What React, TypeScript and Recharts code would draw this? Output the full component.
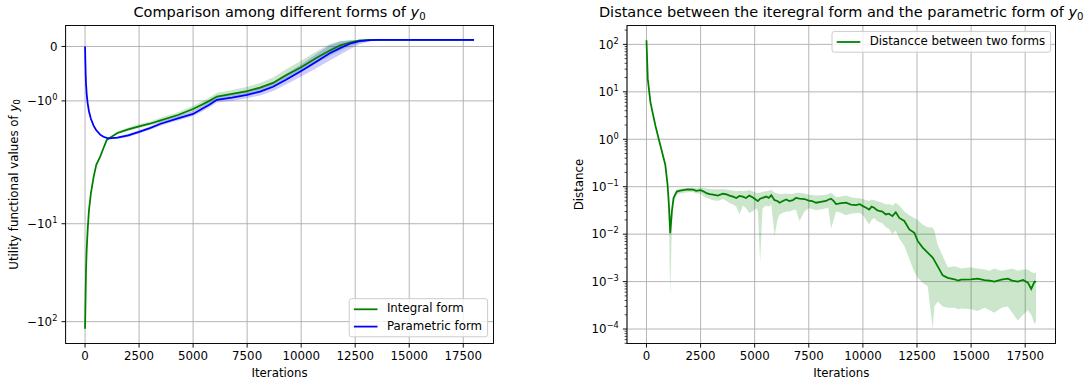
import React from "react";
import { ComposedChart, Line, Area, XAxis, YAxis, CartesianGrid } from "recharts";

const FONT = "'DejaVu Sans', sans-serif";
const FS = 11.8;
const TITLE_FS = 14.5;
const LW = 1.77;
const GRID = "#b0b0b0";
const TICK_LEN = 4.1;
const TICK_PAD = 4.1;
const GREEN = "#008000";
const BLUE = "#0000ff";

const iterTicks = [0, 2500, 5000, 7500, 10000, 12500, 15000, 17500];

// left panel: utility functional values of y0 (symlog axis)
const iters = [
  0, 15, 30, 45, 75, 120, 180, 270, 400, 520, 700, 850, 1000, 1100, 1500, 2000, 2500, 3000, 3500, 4300,
  5000, 5400, 5750, 6100, 6800, 7500, 8100, 8700, 9300, 10000, 10700, 11300, 11800, 12250, 12700, 13200,
  13600, 14000, 18000,
];
const integralForm = [
  -118, -75, -47, -30, -18.5, -11.7, -7.3, -4.9, -3.3, -2.5, -2.06, -1.87, -1.72, -1.69, -1.59, -1.525,
  -1.47, -1.42, -1.36, -1.26, -1.15, -1.07, -1.0, -0.92, -0.87, -0.82, -0.755, -0.67, -0.53, -0.38, -0.21,
  -0.08, 0.02, 0.07, 0.11, 0.12, 0.12, 0.12, 0.12,
];
const integralLow = [
  -119, -76, -47.5, -30.3, -18.7, -11.8, -7.35, -4.93, -3.32, -2.52, -2.07, -1.88, -1.73, -1.7, -1.61,
  -1.55, -1.5, -1.45, -1.4, -1.3, -1.2, -1.12, -1.05, -0.97, -0.93, -0.88, -0.82, -0.74, -0.61, -0.47,
  -0.31, -0.18, -0.08, 0.0, 0.07, 0.11, 0.12, 0.12, 0.12,
];
const integralHigh = [
  -117, -74, -46.5, -29.7, -18.3, -11.6, -7.25, -4.87, -3.28, -2.48, -2.05, -1.86, -1.71, -1.68, -1.56,
  -1.49, -1.43, -1.38, -1.31, -1.21, -1.09, -1.01, -0.94, -0.85, -0.8, -0.74, -0.67, -0.57, -0.42, -0.26,
  -0.09, 0.04, 0.1, 0.12, 0.12, 0.12, 0.12, 0.12, 0.12,
];
const parametricForm = [
  0, -0.28, -0.52, -0.68, -0.87, -1.04, -1.19, -1.33, -1.46, -1.54, -1.62, -1.66, -1.68, -1.69, -1.675,
  -1.635, -1.57, -1.5, -1.42, -1.32, -1.24, -1.15, -1.07, -0.98, -0.94, -0.89, -0.83, -0.74, -0.61, -0.45,
  -0.28, -0.13, -0.03, 0.05, 0.1, 0.115, 0.12, 0.12, 0.12,
];
const parametricLow = [
  -0.01, -0.29, -0.53, -0.69, -0.88, -1.05, -1.2, -1.34, -1.47, -1.55, -1.63, -1.67, -1.69, -1.7, -1.695,
  -1.665, -1.6, -1.53, -1.455, -1.36, -1.28, -1.2, -1.12, -1.03, -1.0, -0.95, -0.9, -0.82, -0.7, -0.55,
  -0.4, -0.26, -0.15, -0.05, 0.04, 0.095, 0.115, 0.12, 0.12,
];
const parametricHigh = [
  0.01, -0.27, -0.51, -0.67, -0.86, -1.03, -1.18, -1.32, -1.45, -1.53, -1.61, -1.65, -1.67, -1.68, -1.655,
  -1.605, -1.54, -1.47, -1.385, -1.28, -1.19, -1.1, -1.01, -0.92, -0.88, -0.82, -0.75, -0.65, -0.5, -0.33,
  -0.14, 0.02, 0.09, 0.11, 0.12, 0.12, 0.12, 0.12, 0.12,
];
const leftTickValues = [0, -1, -10, -100];

// right panel: distance between the two forms (log axis)
const distIters = [
  0, 61, 183, 411, 640, 869, 975, 1036, 1097, 1173,
  1250, 1400, 1550, 1700, 1900, 2150, 2300, 2500, 2650, 2770,
  2920, 3080, 3300, 3530, 3700, 3840, 4000, 4150, 4300, 4450,
  4600, 4750, 4900, 5060, 5150, 5250, 5364, 5537, 5650, 5767,
  5920, 6050, 6150, 6300, 6457, 6600, 6764, 6900, 7070, 7300,
  7500, 7650, 7837, 8050, 8298, 8400, 8528, 8650, 8758, 9000,
  9218, 9450, 9678, 9850, 10000, 10150, 10292, 10400, 10522, 10650,
  10752, 10900, 11059, 11200, 11366, 11519, 11682, 11914, 12145, 12377,
  12531, 12762, 12994, 13225, 13302, 13457, 13688, 13920, 14228, 14400,
  14537, 15000, 15300, 15617, 15850, 16080, 16400, 16697, 16900, 17160,
  17400, 17623, 17777, 17932, 18000,
];
const distance = [
  122, 18.5, 6.0, 1.95, 0.75, 0.29, 0.11, 0.042, 0.0105, 0.03,
  0.058, 0.079, 0.083, 0.085, 0.088, 0.087, 0.082, 0.085, 0.079, 0.073,
  0.07, 0.068, 0.065, 0.071, 0.069, 0.065, 0.062, 0.058, 0.064, 0.062,
  0.058, 0.065, 0.06, 0.053, 0.05, 0.056, 0.058, 0.062, 0.058, 0.066,
  0.052, 0.05, 0.046, 0.05, 0.054, 0.05, 0.052, 0.058, 0.056, 0.055,
  0.051, 0.05, 0.046, 0.048, 0.05, 0.053, 0.056, 0.05, 0.043, 0.045,
  0.046, 0.042, 0.041, 0.043, 0.039, 0.036, 0.033, 0.038, 0.036, 0.032,
  0.031, 0.03, 0.026, 0.027, 0.024, 0.029, 0.022, 0.019, 0.0126, 0.0107,
  0.0072, 0.0052, 0.0041, 0.0032, 0.0028, 0.0021, 0.00135, 0.0012, 0.00112, 0.00105,
  0.0011, 0.00112, 0.00115, 0.00108, 0.00105, 0.001, 0.0011, 0.00115, 0.00105, 0.001,
  0.00108, 0.00095, 0.0007, 0.001, 0.00098,
];
const distLow = [
  120, 18.2, 5.9, 1.9, 0.73, 0.28, 0.105, 0.02, 0.0005, 0.015,
  0.045, 0.068, 0.072, 0.074, 0.076, 0.077, 0.072, 0.072, 0.062, 0.058,
  0.055, 0.052, 0.05, 0.055, 0.05, 0.045, 0.042, 0.038, 0.026, 0.04,
  0.035, 0.028, 0.03, 0.035, 0.03, 0.0025, 0.035, 0.04, 0.038, 0.042,
  0.009, 0.02, 0.026, 0.028, 0.03, 0.03, 0.032, 0.033, 0.019, 0.03,
  0.035, 0.034, 0.032, 0.033, 0.035, 0.036, 0.013, 0.02, 0.03, 0.028,
  0.025, 0.027, 0.028, 0.028, 0.025, 0.02, 0.016, 0.02, 0.022, 0.019,
  0.018, 0.017, 0.014, 0.013, 0.01, 0.012, 0.008, 0.0056, 0.003, 0.0016,
  0.0012, 0.00095, 0.0008, 0.0001, 0.0003, 0.00038, 0.0003, 0.00028, 0.00028, 0.00026,
  0.00027, 0.00026, 0.00024, 0.00028, 0.00025, 0.00022, 0.00028, 0.0003, 0.00022, 0.00015,
  0.0002, 0.00025, 0.0002, 0.00013, 0.00014,
];
const distHigh = [
  124, 18.8, 6.1, 2.0, 0.77, 0.3, 0.115, 0.045, 0.012, 0.035,
  0.065, 0.088, 0.09, 0.093, 0.094, 0.095, 0.093, 0.096, 0.094, 0.092,
  0.09, 0.088, 0.088, 0.09, 0.087, 0.085, 0.083, 0.08, 0.082, 0.08,
  0.082, 0.085, 0.08, 0.075, 0.074, 0.075, 0.078, 0.08, 0.082, 0.086,
  0.075, 0.072, 0.07, 0.07, 0.072, 0.07, 0.07, 0.074, 0.075, 0.072,
  0.068, 0.067, 0.065, 0.066, 0.068, 0.07, 0.075, 0.068, 0.06, 0.062,
  0.065, 0.06, 0.058, 0.057, 0.055, 0.052, 0.05, 0.054, 0.052, 0.05,
  0.048, 0.046, 0.042, 0.043, 0.04, 0.046, 0.04, 0.03, 0.025, 0.022,
  0.02, 0.016, 0.014, 0.0138, 0.012, 0.006, 0.0035, 0.002, 0.0021, 0.002,
  0.0019, 0.002, 0.0019, 0.0018, 0.0017, 0.0019, 0.0017, 0.0018, 0.0019, 0.0017,
  0.0018, 0.0018, 0.0016, 0.0015, 0.0016,
];

// symmetric log transform (linthresh 2, base 10, linscale 1)
const LINTHRESH = 2;
const LINSCALE = 1 / (1 - 1 / 10);
const symlog = (v: number) => {
  const a = Math.abs(v);
  if (a <= LINTHRESH) return v * LINSCALE;
  return Math.sign(v) * LINTHRESH * (LINSCALE + Math.log10(a / LINTHRESH));
};

const padded = (vals: number[]): [number, number] => {
  const lo = Math.min(...vals);
  const hi = Math.max(...vals);
  const pad = (hi - lo) * 0.05;
  return [lo - pad, hi + pad];
};

const leftRows = iters.map((x, i) => ({
  x,
  integral: symlog(integralForm[i]),
  integralBand: [symlog(integralLow[i]), symlog(integralHigh[i])],
  parametric: symlog(parametricForm[i]),
  parametricBand: [symlog(parametricLow[i]), symlog(parametricHigh[i])],
}));
const leftDomain = padded(
  [...integralForm, ...integralLow, ...integralHigh, ...parametricForm, ...parametricLow, ...parametricHigh].map(symlog)
);

const rightRows = distIters.map((x, i) => ({
  x,
  dist: distance[i],
  band: [distLow[i], distHigh[i]],
}));
const logDom = padded([...distance, ...distLow, ...distHigh].map(Math.log10));
const rightDomain: [number, number] = [10 ** logDom[0], 10 ** logDom[1]];
const rightMajors = [1e-4, 1e-3, 1e-2, 1e-1, 1, 10, 100];
const rightMinors: number[] = [];
for (let k = -5; k <= 2; k++) {
  for (let m = 2; m <= 9; m++) {
    const v = m * 10 ** k;
    if (v >= rightDomain[0] && v <= rightDomain[1]) rightMinors.push(v);
  }
}

// plot frames (page coordinates)
const LEFT = { x: 65.6, y: 25.5, w: 427.9, h: 318 };
const RIGHT = { x: 627, y: 25.5, w: 428.5, h: 318 };
const PANEL_W = 544;
const H = 383;

function PowLabel({ x, y, base, exp }: { x: number; y: number; base: string; exp?: string }) {
  return (
    <text x={x} y={y} textAnchor="end" fontFamily={FONT} fontSize={FS} fill="#000">
      <tspan dy={0.36 * FS}>{base}</tspan>
      {exp !== undefined && (
        <tspan dy={-0.42 * FS} fontSize={FS * 0.7}>
          {exp}
        </tspan>
      )}
    </text>
  );
}

const minus = (s: string) => s.replace("-", "\u2212");

function leftTick(plotX: number) {
  return (p: any) => {
    const val = p.payload.value;
    const raw = leftTickValues.find((v) => Math.abs(symlog(v) - val) < 1e-6) ?? 0;
    return (
      <g>
        <line x1={plotX - TICK_LEN} x2={plotX} y1={p.y} y2={p.y} stroke="#000" strokeWidth={0.94} />
        <PowLabel
          x={plotX - TICK_LEN - TICK_PAD}
          y={p.y}
          base={raw === 0 ? "0" : "\u221210"}
          exp={raw === 0 ? undefined : String(Math.round(Math.log10(-raw)))}
        />
      </g>
    );
  };
}

function rightTick(plotX: number) {
  return (p: any) => {
    const v = p.payload.value;
    const e = Math.log10(v);
    const major = Math.abs(e - Math.round(e)) < 1e-9;
    if (!major) {
      return (
        <line x1={plotX - 2.4} x2={plotX} y1={p.y} y2={p.y} stroke="#000" strokeWidth={0.7} />
      );
    }
    return (
      <g>
        <line x1={plotX - TICK_LEN} x2={plotX} y1={p.y} y2={p.y} stroke="#000" strokeWidth={0.94} />
        <PowLabel x={plotX - TICK_LEN - TICK_PAD} y={p.y} base="10" exp={minus(String(Math.round(e)))} />
      </g>
    );
  };
}

const xTickStyle = { fill: "#000", fontSize: FS, fontFamily: FONT };

function LeftPanel() {
  const plotX = LEFT.x;
  return (
    <ComposedChart
      width={PANEL_W}
      height={H}
      data={leftRows}
      margin={{ top: LEFT.y, right: PANEL_W - LEFT.x - LEFT.w, bottom: 0, left: 0 }}
    >
      <CartesianGrid stroke={GRID} strokeWidth={0.94} />
      <XAxis
        dataKey="x"
        type="number"
        domain={[-900, 18900]}
        ticks={iterTicks}
        interval={0}
        allowDataOverflow
        height={H - LEFT.y - LEFT.h}
        axisLine={false}
        tickSize={TICK_LEN}
        tickMargin={TICK_PAD}
        tickLine={{ stroke: "#000", strokeWidth: 0.94 }}
        tick={xTickStyle}
      />
      <YAxis
        type="number"
        domain={leftDomain}
        ticks={leftTickValues.map(symlog)}
        interval={0}
        allowDataOverflow
        width={plotX}
        axisLine={false}
        tickLine={false}
        tick={leftTick(plotX)}
      />
      <Area type="linear" dataKey="integralBand" stroke="none" fill={GREEN} fillOpacity={0.2} isAnimationActive={false} activeDot={false} />
      <Area type="linear" dataKey="parametricBand" stroke="none" fill={BLUE} fillOpacity={0.2} isAnimationActive={false} activeDot={false} />
      <Line type="linear" dataKey="integral" stroke={GREEN} strokeWidth={LW} dot={false} activeDot={false} isAnimationActive={false} />
      <Line type="linear" dataKey="parametric" stroke={BLUE} strokeWidth={LW} dot={false} activeDot={false} isAnimationActive={false} />
    </ComposedChart>
  );
}

function RightPanel() {
  const plotX = RIGHT.x - PANEL_W;
  return (
    <ComposedChart
      width={PANEL_W}
      height={H}
      data={rightRows}
      margin={{ top: RIGHT.y, right: PANEL_W - plotX - RIGHT.w, bottom: 0, left: 0 }}
    >
      <CartesianGrid stroke={GRID} strokeWidth={0.94} horizontalValues={rightMajors} />
      <XAxis
        dataKey="x"
        type="number"
        domain={[-900, 18900]}
        ticks={iterTicks}
        interval={0}
        allowDataOverflow
        height={H - RIGHT.y - RIGHT.h}
        axisLine={false}
        tickSize={TICK_LEN}
        tickMargin={TICK_PAD}
        tickLine={{ stroke: "#000", strokeWidth: 0.94 }}
        tick={xTickStyle}
      />
      <YAxis
        type="number"
        scale="log"
        domain={rightDomain}
        ticks={[...rightMajors, ...rightMinors]}
        interval={0}
        allowDataOverflow
        width={plotX}
        axisLine={false}
        tickLine={false}
        tick={rightTick(plotX)}
      />
      <Area type="linear" dataKey="band" stroke="none" fill={GREEN} fillOpacity={0.2} isAnimationActive={false} activeDot={false} />
      <Line type="linear" dataKey="dist" stroke={GREEN} strokeWidth={LW} dot={false} activeDot={false} isAnimationActive={false} />
    </ComposedChart>
  );
}

function Y0({ fs }: { fs: number }) {
  return (
    <>
      <tspan fontStyle="italic">y</tspan>
      <tspan fontSize={fs * 0.7} dy={0.22 * fs}>
        0
      </tspan>
    </>
  );
}

function LegendBox({
  x, y, w, items,
}: { x: number; y: number; w: number; items: { label: string; color: string }[] }) {
  const pad = 4.7;
  const rowH = 11.4;
  const gap = 5.9;
  const h = pad * 2 + items.length * rowH + (items.length - 1) * gap;
  return (
    <g>
      <rect x={x} y={y} width={w} height={h} rx={2.4} fill="#fff" fillOpacity={0.8} stroke="#cccccc" strokeWidth={1} />
      {items.map((it, i) => {
        const top = y + pad + i * (rowH + gap);
        return (
          <g key={it.label}>
            <line x1={x + pad} x2={x + pad + 23.6} y1={top + 5.9} y2={top + 5.9} stroke={it.color} strokeWidth={LW} />
            <text x={x + pad + 23.6 + 9.4} y={top + 0.76 * FS} fontFamily={FONT} fontSize={FS} fill="#000">
              {it.label}
            </text>
          </g>
        );
      })}
    </g>
  );
}

function Overlay() {
  const lcx = LEFT.x + LEFT.w / 2;
  const rcx = RIGHT.x + RIGHT.w / 2;
  const cy = LEFT.y + LEFT.h / 2;
  return (
    <svg width={1088} height={H} style={{ position: "absolute", left: 0, top: 0, pointerEvents: "none" }}>
      <rect x={LEFT.x} y={LEFT.y} width={LEFT.w} height={LEFT.h} fill="none" stroke="#000" strokeWidth={0.94} />
      <rect x={RIGHT.x} y={RIGHT.y} width={RIGHT.w} height={RIGHT.h} fill="none" stroke="#000" strokeWidth={0.94} />
      <text x={lcx} y={16.5} textAnchor="middle" fontFamily={FONT} fontSize={TITLE_FS} fill="#000">
        Comparison among different forms of <Y0 fs={TITLE_FS} />
      </text>
      <text x={rcx} y={16.5} textAnchor="middle" fontFamily={FONT} fontSize={TITLE_FS} fill="#000">
        Distance between the iteregral form and the parametric form of <Y0 fs={TITLE_FS} />
      </text>
      <text x={lcx} y={377} textAnchor="middle" fontFamily={FONT} fontSize={FS} fill="#000">
        Iterations
      </text>
      <text x={rcx} y={377} textAnchor="middle" fontFamily={FONT} fontSize={FS} fill="#000">
        Iterations
      </text>
      <text transform={`translate(17.7,${cy}) rotate(-90)`} textAnchor="middle" fontFamily={FONT} fontSize={FS} fill="#000">
        Utility functional values of <Y0 fs={FS} />
      </text>
      <text transform={`translate(583.3,${cy}) rotate(-90)`} textAnchor="middle" fontFamily={FONT} fontSize={FS} fill="#000">
        Distance
      </text>
      <LegendBox
        x={349.2}
        y={298.7}
        w={138.4}
        items={[
          { label: "Integral form", color: GREEN },
          { label: "Parametric form", color: BLUE },
        ]}
      />
      <LegendBox x={832} y={31.4} w={218.6} items={[{ label: "Distancce between two forms", color: GREEN }]} />
    </svg>
  );
}

export default function App() {
  return (
    <div
      style={{
        position: "fixed",
        left: 0,
        top: 0,
        width: 1088,
        height: H,
        background: "#fff",
        overflow: "hidden",
        fontFamily: FONT,
      }}
    >
      <div style={{ position: "absolute", left: 0, top: 0 }}>
        <LeftPanel />
      </div>
      <div style={{ position: "absolute", left: PANEL_W, top: 0 }}>
        <RightPanel />
      </div>
      <Overlay />
    </div>
  );
}
